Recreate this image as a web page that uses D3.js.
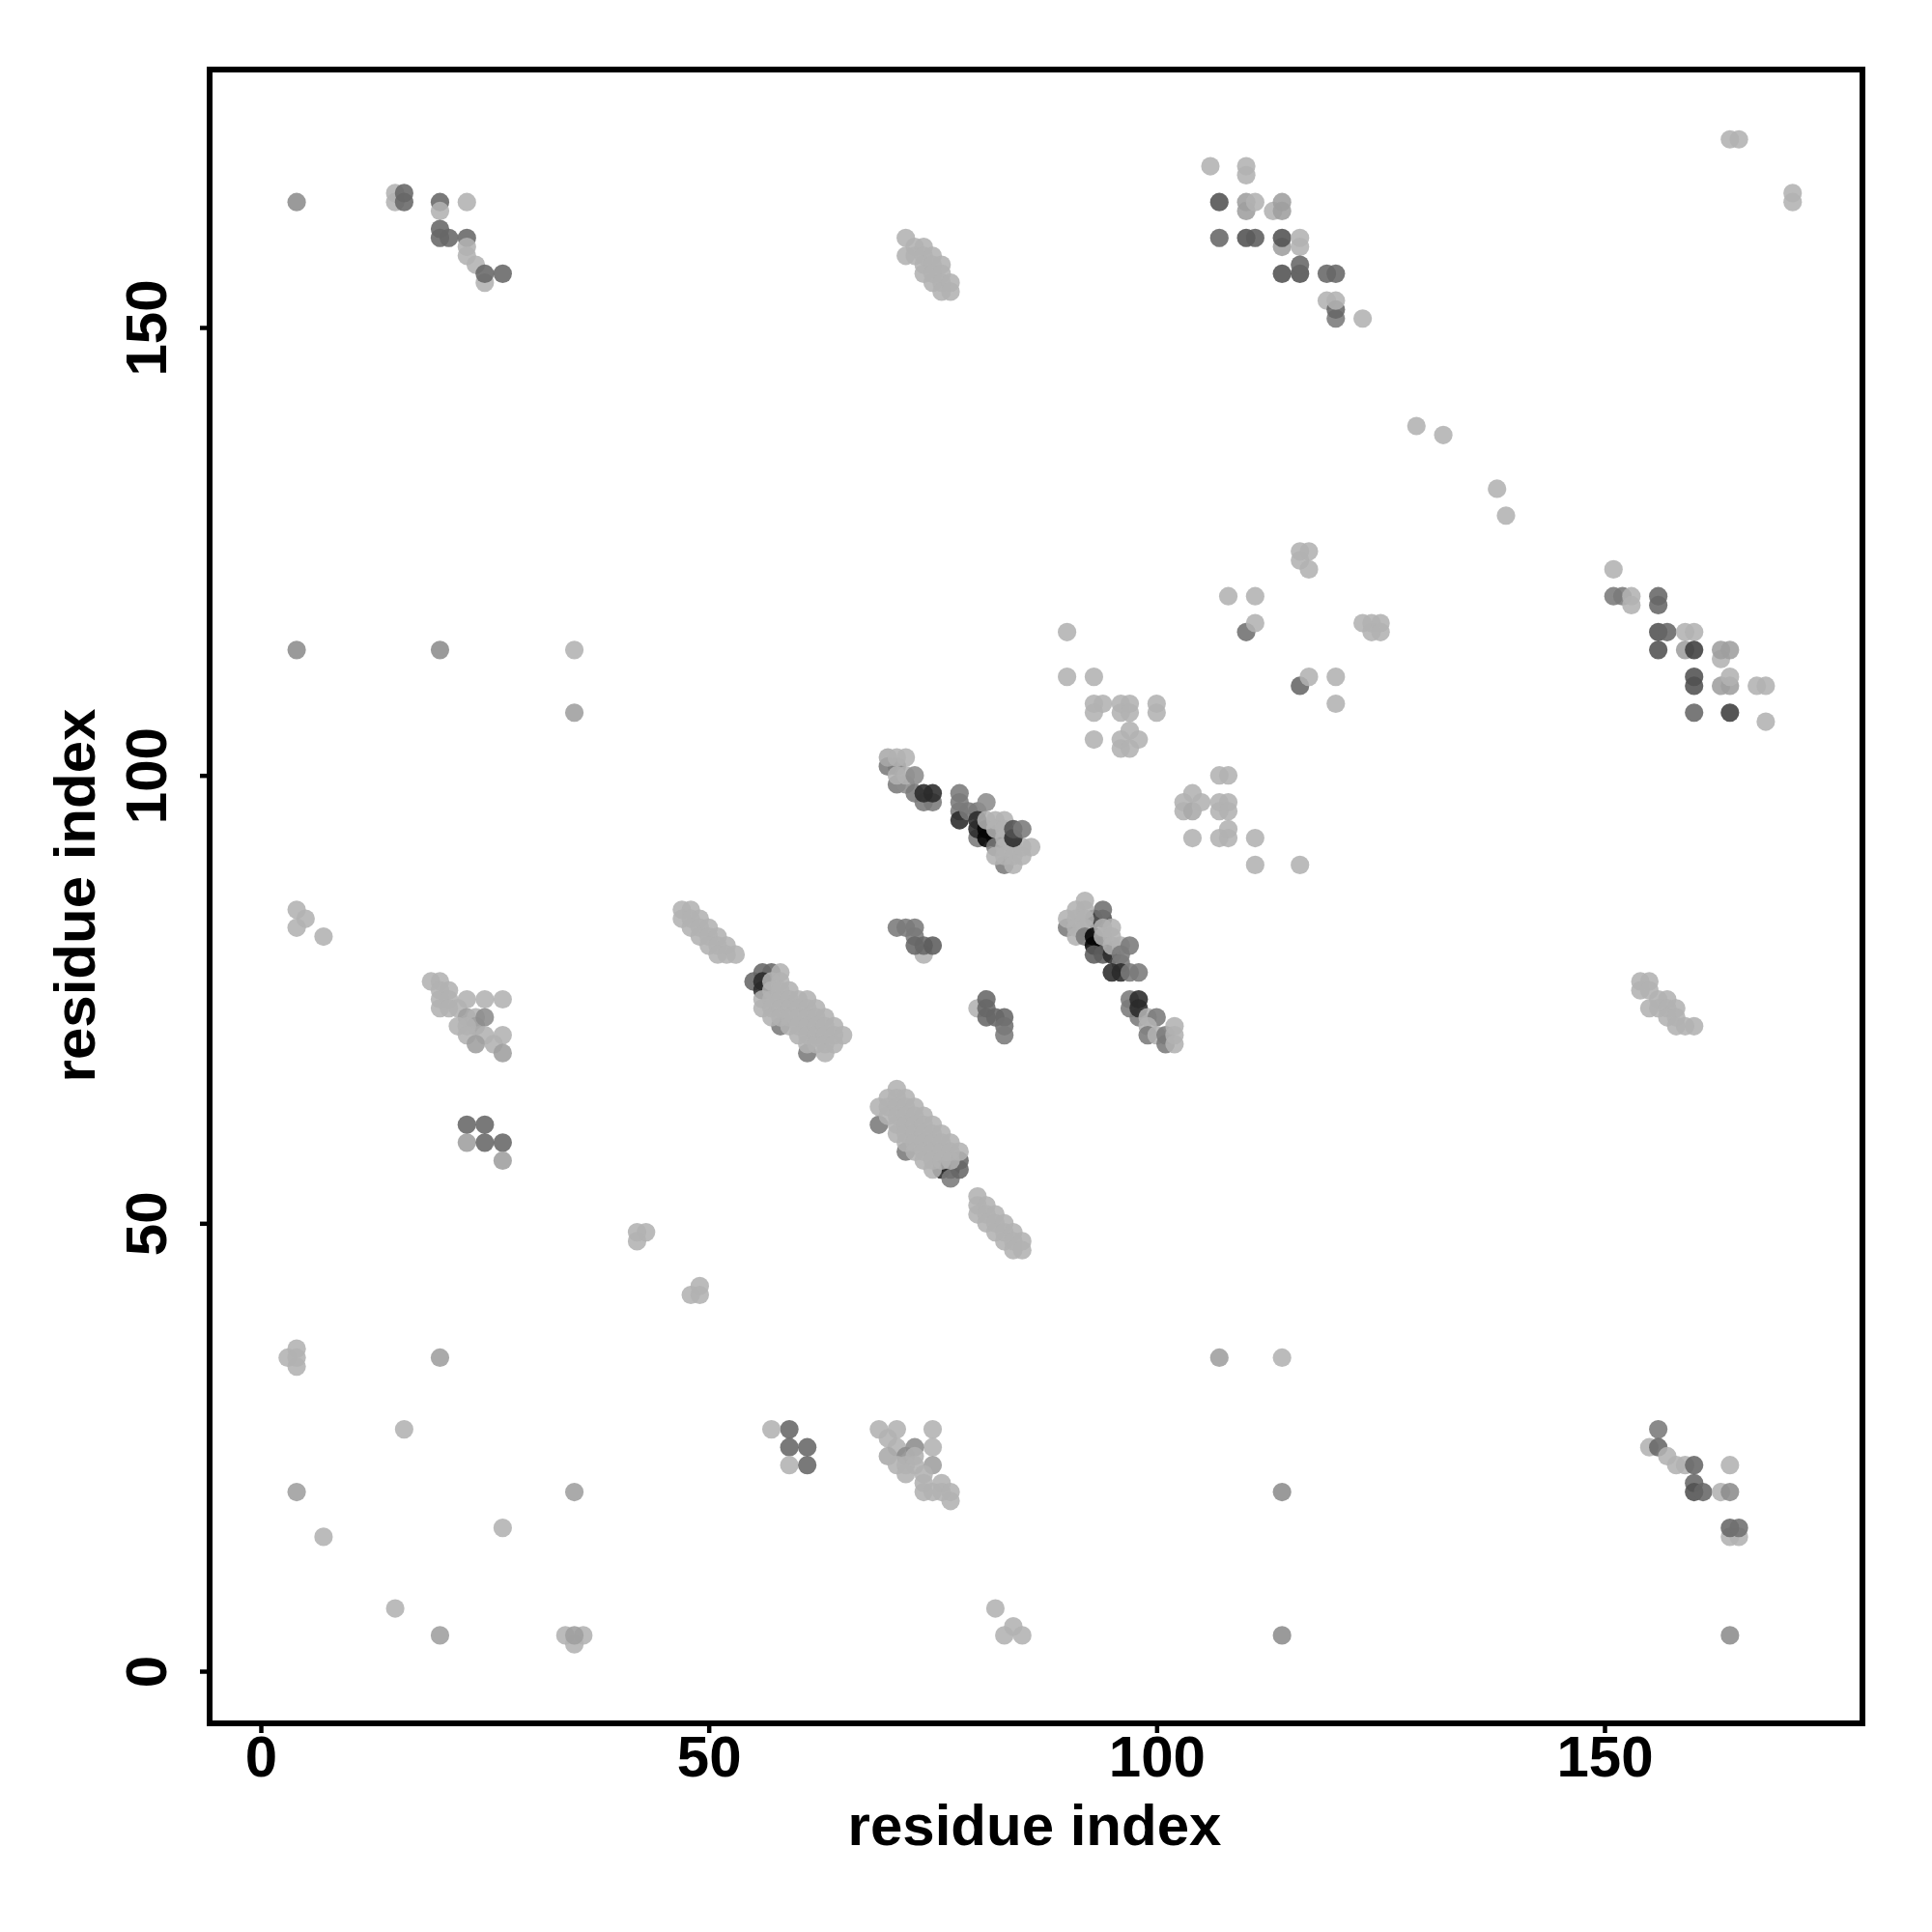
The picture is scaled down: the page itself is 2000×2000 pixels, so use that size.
<!DOCTYPE html>
<html><head><meta charset="utf-8">
<style>html,body{margin:0;background:#fff}svg{display:block}text{font-family:"Liberation Sans",Arial,sans-serif;font-weight:700;fill:#000}</style>
<script src="https://cdn.jsdelivr.net/npm/d3@7"></script></head>
<body><svg id="c" width="2000" height="2000"></svg>
<script>
const xLabel = "residue index", yLabel = "residue index";
const tickValues = [0, 50, 100, 150];
const scoreLevels = [1, 2, 3, 4, 5, 6, 7];
const grayLevels = ["#b2b2b2", "#9e9e9e", "#7a7a7a", "#666666", "#515151", "#2a2a2a", "#040404"];
// [residue i, residue j, contact score]
const contactsLeft = [
[4,164,2.5],[15,165,1],[15,164,1],[16,165,4],[16,164,4],[20,164,4],[20,163,1],[20,161,4],[20,160,4],[21,160,4],[23,164,1],[23,160,4],[23,159,1],[23,158,1],[24,157,1],[25,155,1],[25,156,4],[27,156,4],
[4,114,2.5],[20,114,2.5],[35,114,1],[35,107,2],
[4,85,1],[5,84,1],[4,83,1],[7,82,1],
[23,75,1],[25,75,1],[27,75,1],[19,77,1],[20,77,1],[21,76,1],[20,76,1],[20,75,1],[21,75,1],[20,74,1],[21,74,1],[22,74,1],[23,73,2],[24,73,1],[24,72,2],[25,73,2.5],[22,72,1],[23,72,1],[23,71,1],[25,71,1],[27,71,1],[24,70,2],[26,70,1],[27,69,2],
[23,61,4],[25,61,4],[23,59,2],[25,59,4],[27,59,4],[27,57,2],
[3,35,1],[4,36,1],[4,34,1],[4,35,1],[20,35,2],[16,27,1],[4,20,2],[35,20,2],[27,16,1],[7,15,1],[15,7,1],[20,4,2],[34,4,1],[36,4,1],[35,3,1],[35,4,2],
[42,49,1],[43,49,1],[42,48,1],[48,42,1],[49,42,1],[49,43,1]];
const contactsBands = [
[47,85,1],[48,85,1],[47,84,1],[48,84,1],[49,84,1],[48,83,1],[49,83,1],[50,83,1],[49,82,1],[50,82,1],[51,82,1],[50,81,1],[51,81,1],[52,81,1],[51,80,1],[52,80,1],[53,80,1],
[55,77,4],[56,78,4],[57,78,4],[56,77,6],[56,76,6],[58,72,3],[61,69,3],
[56,75,1],[56,74,1],[57,77,1],[57,76,1],[57,75,1],[57,74,1],[57,73,1],[58,78,1],[58,77,1],[58,76,1],[58,75,1],[58,74,1],[58,73,1],[59,76,1],[59,75,1],[59,74,1],[59,73,1],[59,72,1],[60,75,1],[60,74,1],[60,73,1],[60,72,1],[60,71,1],[61,75,1],[61,74,1],[61,73,1],[61,72,1],[61,71,1],[61,70,1],[62,74,1],[62,73,1],[62,72,1],[62,71,1],[62,70,1],[63,73,1],[63,72,1],[63,71,1],[63,70,1],[63,69,1],[64,72,1],[64,71,1],[64,70,1],[65,71,1],
[69,61,3],[72,58,3],[76,56,6],[77,56,6],[77,55,3],[78,57,4],[78,56,4],
[69,63,1],[70,64,1],[70,63,1],[70,62,1],[71,65,1],[71,64,1],[71,63,1],[71,62,1],[71,61,1],[71,60,1],[72,64,1],[72,63,1],[72,62,1],[72,61,1],[72,60,1],[72,59,1],[73,63,1],[73,62,1],[73,61,1],[73,60,1],[73,59,1],[73,58,1],[74,62,1],[74,61,1],[74,60,1],[74,59,1],[74,58,1],[74,57,1],[75,61,1],[75,60,1],[75,59,1],[75,58,1],[75,57,1],[75,56,1],[76,60,1],[76,59,1],[76,58,1],[76,57,1],[77,59,1],[77,58,1],[77,57,1],[78,58,1],
[80,53,1],[80,52,1],[80,51,1],[81,52,1],[81,51,1],[81,50,1],[82,51,1],[82,50,1],[82,49,1],[83,50,1],[83,49,1],[83,48,1],[84,49,1],[84,48,1],[84,47,1],[85,48,1],[85,47,1],
[59,27,4],[57,27,1],[59,25,4],[61,25,4],[59,23,1],[61,23,4],
[69,27,1],[71,27,1],[75,27,1],[70,26,1],[71,25,1],[75,25,1],[70,24,1.5],[73,25,2.5],[72,24,2.5],[71,23,1],[72,23,1],[73,24,1],[73,23,1],[72,22,1],[75,23,2],[74,22,1],[74,21,1],[74,20,1],[75,20,1],[76,21,1],[76,20,1],[77,20,1],[77,19,1],
[82,7,1],[83,4,1],[84,5,1],[85,4,1]];
const contactsCentre = [
[70,101,3],[71,101,3],[71,99,3],[72,99,2.5],[70,102,1.5],[71,102,1],[72,102,1],[71,100,1],[72,100,1],[73,100,2.5],[73,98,3],[74,97,3],[75,97,3],[74,98,6],[75,98,6],
[78,98,3],[78,97,3],[78,96,3],[78,95,6],[79,96,3],[80,96,3],[80,93,3],[80,95,6],[80,94,6],[81,94,7],[81,93,7],[82,93,7],[82,92,3],[83,90,3],
[81,97,2.5],[81,95,1],[82,95,1],[83,95,1],[82,94,1],[83,94,1],[83,93,1],[83,92,1],[82,91,1],[83,91,1],[84,92,1],[84,91,1],[84,90,1],[85,91,1],[85,92,1],[86,92,1],[84,93,6],[84,94,5],[85,94,3],
[71,83,3],[72,83,3],[73,83,3],[74,80,1],[73,82,3],[73,81,4],[74,81,4],[75,81,4.5],
[90,83,3],[93,84,6],[94,84,5],[94,85,3.5],[92,86,1],[91,85,1],[92,85,1],[90,84,1],[91,84,1],[92,84,1],[91,83,1],[92,83,1],[91,82,1],[92,82,3],[93,82,7],[93,81,7],[94,81,7],[93,80,4.5],[94,80,4.5],[95,80,6],[94,83,1],[95,83,1],[94,82,1],[95,82,1],[95,81,1],[96,81,1],[97,81,3],
[96,80,3],[96,79,3],[95,78,6],[96,78,6],[97,78,3],[98,78,3],
[80,74,1],[81,75,4],[81,74,4],[81,73,4],[82,73,4],[83,73,4],[83,72,3.5],[83,71,3],
[97,75,3],[97,74,3],[98,73,3],[98,75,6],[98,74,6],[99,73,1],[100,73,3],[99,72,1],[99,71,3],[100,71,1],[101,71,3],[101,70,3],[102,72,1],[102,71,1],[102,70,1]];
const contactsRight = [
[72,160,1],[72,158,1],[73,159,1],[73,158,1],[74,159,1],[74,158,1],[74,157,1],[74,156,1],[75,158,1],[75,157,1],[75,156,1],[75,155,1],[76,157,1],[76,156,1],[76,155,1],[76,154,1],[77,155,1],[77,154,1],
[106,168,1],[110,168,1],[110,167,1],[107,164,5],[110,164,2],[110,163,2],[111,164,1],[113,163,1],[114,164,2],[114,163,2],[107,160,4],[110,160,5],[111,160,4.5],[114,159,2],[114,160,5],[116,160,1],[116,159,1],[114,156,5],[116,156,5],[116,157,4],[119,156,4],[120,156,4],[119,153,1],[120,151,3],[120,152,4],[120,153,1],[123,151,1],
[164,171,1],[165,171,1],[171,165,1],[171,164,1],[129,139,1],[132,138,1],[138,132,1],[139,129,1],
[151,123,1],[151,120,3],[152,120,3],[153,120,1],[153,119,1],[156,120,4],[156,119,4],[156,116,5],[157,116,4],[159,116,1],[160,116,1],[156,114,5],[159,114,2],[160,114,5.5],[163,113,1],[163,114,2],[164,114,2],[160,111,5],[160,110,5],[163,110,2],[164,110,2],[164,111,1],[167,110,1],[168,110,1],[160,107,4],[164,107,5.5],[168,106,1],
[116,125,1],[117,125,1],[116,124,1],[117,123,1],[108,120,1],[111,120,1],[110,116,3.5],[111,117,1],[123,117,1],[124,116,1],[124,117,1],[125,117,1],[125,116,1],
[90,116,1],[90,111,1],[93,111,1],[93,108,1],[94,108,1],[93,107,1],[93,104,1],[96,108,1],[97,108,1],[96,107,1],[97,107,1],[100,108,1],[100,107,1],[97,105,1],[96,104,1],[96,103,1],[97,103,1],[98,104,1],
[116,110,4],[117,111,1],[120,111,1],[120,108,1],
[107,100,1],[108,100,1],[103,97,1],[103,96,1],[104,96,1.5],[104,98,1],[105,97,1],[107,97,1],[108,97,1],[107,96,1],[108,96,1],[104,93,1],[107,93,1],[108,93,1],[108,94,1],[111,93,1],[111,90,1],[116,90,1],
[154,77,1],[155,77,1],[154,76,1],[155,76,1],[156,75,1],[155,74,1],[157,75,1],[156,74,1],[157,74,1],[158,74,1],[157,73,1],[158,73,1],[158,72,1],[159,72,1],[160,72,1],
[107,35,2],[114,35,1],[114,20,2.5],[114,4,2.5],[164,4,2.5],
[156,27,3],[155,25,1],[156,25,4],[157,24,1],[158,23,1],[159,23,1],[160,23,4],[164,23,1],[160,21,4],[160,20,5],[161,20,4],[163,20,1],[164,20,2.5],[164,15,1],[165,15,1],[164,16,4],[165,16,3.5]];
const contacts = [...contactsLeft, ...contactsBands, ...contactsCentre, ...contactsRight];

const svg = d3.select("#c");
const x = d3.scaleLinear().domain([0, 150]).range([270, 1661]);
const y = d3.scaleLinear().domain([0, 150]).range([1730, 339]);
const shade = d3.scaleLinear().domain(scoreLevels).range(grayLevels);

svg.append("g").selectAll("circle").data(contacts).join("circle")
  .attr("cx", d => x(d[0])).attr("cy", d => y(d[1])).attr("r", 9.6)
  .attr("fill", d => shade(d[2])).attr("fill-opacity", 0.88);

svg.append("rect").attr("x", 217).attr("y", 72).attr("width", 1711).attr("height", 1712)
  .attr("fill", "none").attr("stroke", "#000").attr("stroke-width", 6);

const gx = svg.append("g").attr("transform", "translate(0,1784)")
  .call(d3.axisBottom(x).tickValues(tickValues).tickSize(10).tickPadding(8));
const gy = svg.append("g").attr("transform", "translate(217,0)")
  .call(d3.axisLeft(y).tickValues(tickValues).tickSize(10).tickFormat(d3.format("d")));
[gx, gy].forEach(g => { g.select(".domain").remove();
  g.selectAll("line").attr("stroke", "#000").attr("stroke-width", 4.5); });
gx.selectAll("text").attr("font-size", 60).attr("y", null).attr("dy", null).attr("text-anchor", "middle")
  .attr("transform", "translate(0,55)");
gy.selectAll("text").attr("font-size", 60).attr("x", null).attr("dy", null).attr("text-anchor", "middle")
  .attr("transform", "translate(-45,0) rotate(-90)");
svg.append("text").attr("x", 1071).attr("y", 1910).attr("text-anchor", "middle").attr("font-size", 60).text(xLabel);
svg.append("text").attr("transform", "translate(98,927) rotate(-90)").attr("text-anchor", "middle").attr("font-size", 60).text(yLabel);
</script></body></html>
